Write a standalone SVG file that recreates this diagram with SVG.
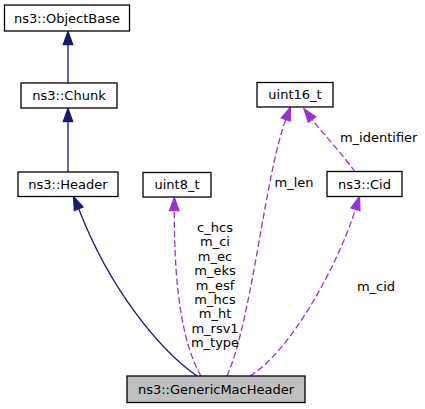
<svg xmlns="http://www.w3.org/2000/svg" width="425" height="409" viewBox="0 0 425 409">
<style>
.node rect{fill:#ffffff;stroke:#000000;stroke-width:1.3}
.node.cur rect{fill:#bfbfbf}
text{font-family:"DejaVu Sans","Liberation Sans",sans-serif;font-size:13px;fill:#000000;text-anchor:middle}
.inh{fill:none;stroke:#191970;stroke-width:1.3}
.inhh{fill:#191970;stroke:#191970;stroke-width:1.3}
.use{fill:none;stroke:#9a32cd;stroke-width:1.3;stroke-dasharray:6.5,3}
.useh{fill:#9a32cd;stroke:#9a32cd;stroke-width:1.3}
</style>
<rect width="425" height="409" fill="#ffffff"/>
<g id="connectors">
  <!-- Chunk -> ObjectBase -->
  <path class="inh" d="M68,83 L68,44.5"/>
  <polygon class="inhh" points="68,31.5 63.3,44.5 72.7,44.5"/>
  <!-- Header -> Chunk -->
  <path class="inh" d="M68,172 L68,121.5"/>
  <polygon class="inhh" points="68,108.5 63.3,121.5 72.7,121.5"/>
  <!-- GenericMacHeader -> Header -->
  <path class="inh" d="M197,376 C160,350 110,290 78.7,208.7"/>
  <polygon class="inhh" points="73.5,196.5 74.4,210.5 83,206.9"/>
  <!-- GenericMacHeader -> uint8_t -->
  <path class="use" d="M201,376 C183,345 174,290 174.3,210.5"/>
  <polygon class="useh" points="174.3,197.5 169.6,210.5 179,210.5"/>
  <!-- GenericMacHeader -> uint16_t (m_len) -->
  <path class="use" d="M227,376 C252,320 264.8,175.9 285.8,119.5"/>
  <polygon class="useh" points="290.5,107 290.2,121.1 281.4,117.9"/>
  <!-- Cid -> uint16_t (m_identifier) -->
  <path class="use" d="M355,172 C344,156 326,137 312,119.5"/>
  <polygon class="useh" points="304,108.9 315.7,116.7 308.3,122.3"/>
  <!-- GenericMacHeader -> Cid (m_cid) -->
  <path class="use" d="M250,376 C290,352 337.5,266.4 355.5,209.2"/>
  <polygon class="useh" points="359.5,196.5 359.95,210.6 351.05,207.8"/>
  <text x="215" y="232">c_hcs</text>
  <text x="215" y="246.4">m_ci</text>
  <text x="215" y="260.8">m_ec</text>
  <text x="215" y="275.2">m_eks</text>
  <text x="215" y="289.6">m_esf</text>
  <text x="215" y="304">m_hcs</text>
  <text x="215" y="318.4">m_ht</text>
  <text x="215" y="332.8">m_rsv1</text>
  <text x="215" y="347.2">m_type</text>
  <text x="294" y="186.7">m_len</text>
  <text x="378.7" y="142.3">m_identifier</text>
  <text x="376" y="290.7">m_cid</text>
</g>
<g id="node-ObjectBase" class="node">
  <rect x="4.5" y="5" width="125" height="26"/>
  <text x="67" y="22.5">ns3::ObjectBase</text>
</g>
<g id="node-Chunk" class="node">
  <rect x="21" y="83" width="96" height="25"/>
  <text x="69" y="100">ns3::Chunk</text>
</g>
<g id="node-Header" class="node">
  <rect x="18" y="172" width="100" height="24.5"/>
  <text x="68" y="188.7">ns3::Header</text>
</g>
<g id="node-uint8_t" class="node">
  <rect x="143" y="172.5" width="68" height="24.5"/>
  <text x="177" y="189">uint8_t</text>
</g>
<g id="node-uint16_t" class="node">
  <rect x="257" y="82.5" width="76" height="24.5"/>
  <text x="295" y="99.2">uint16_t</text>
</g>
<g id="node-Cid" class="node">
  <rect x="327" y="171.5" width="75" height="25"/>
  <text x="364.5" y="188.5">ns3::Cid</text>
</g>
<g id="node-GenericMacHeader" class="node cur">
  <rect x="127" y="376" width="178" height="26.5"/>
  <text x="216" y="393.8">ns3::GenericMacHeader</text>
</g>
</svg>
